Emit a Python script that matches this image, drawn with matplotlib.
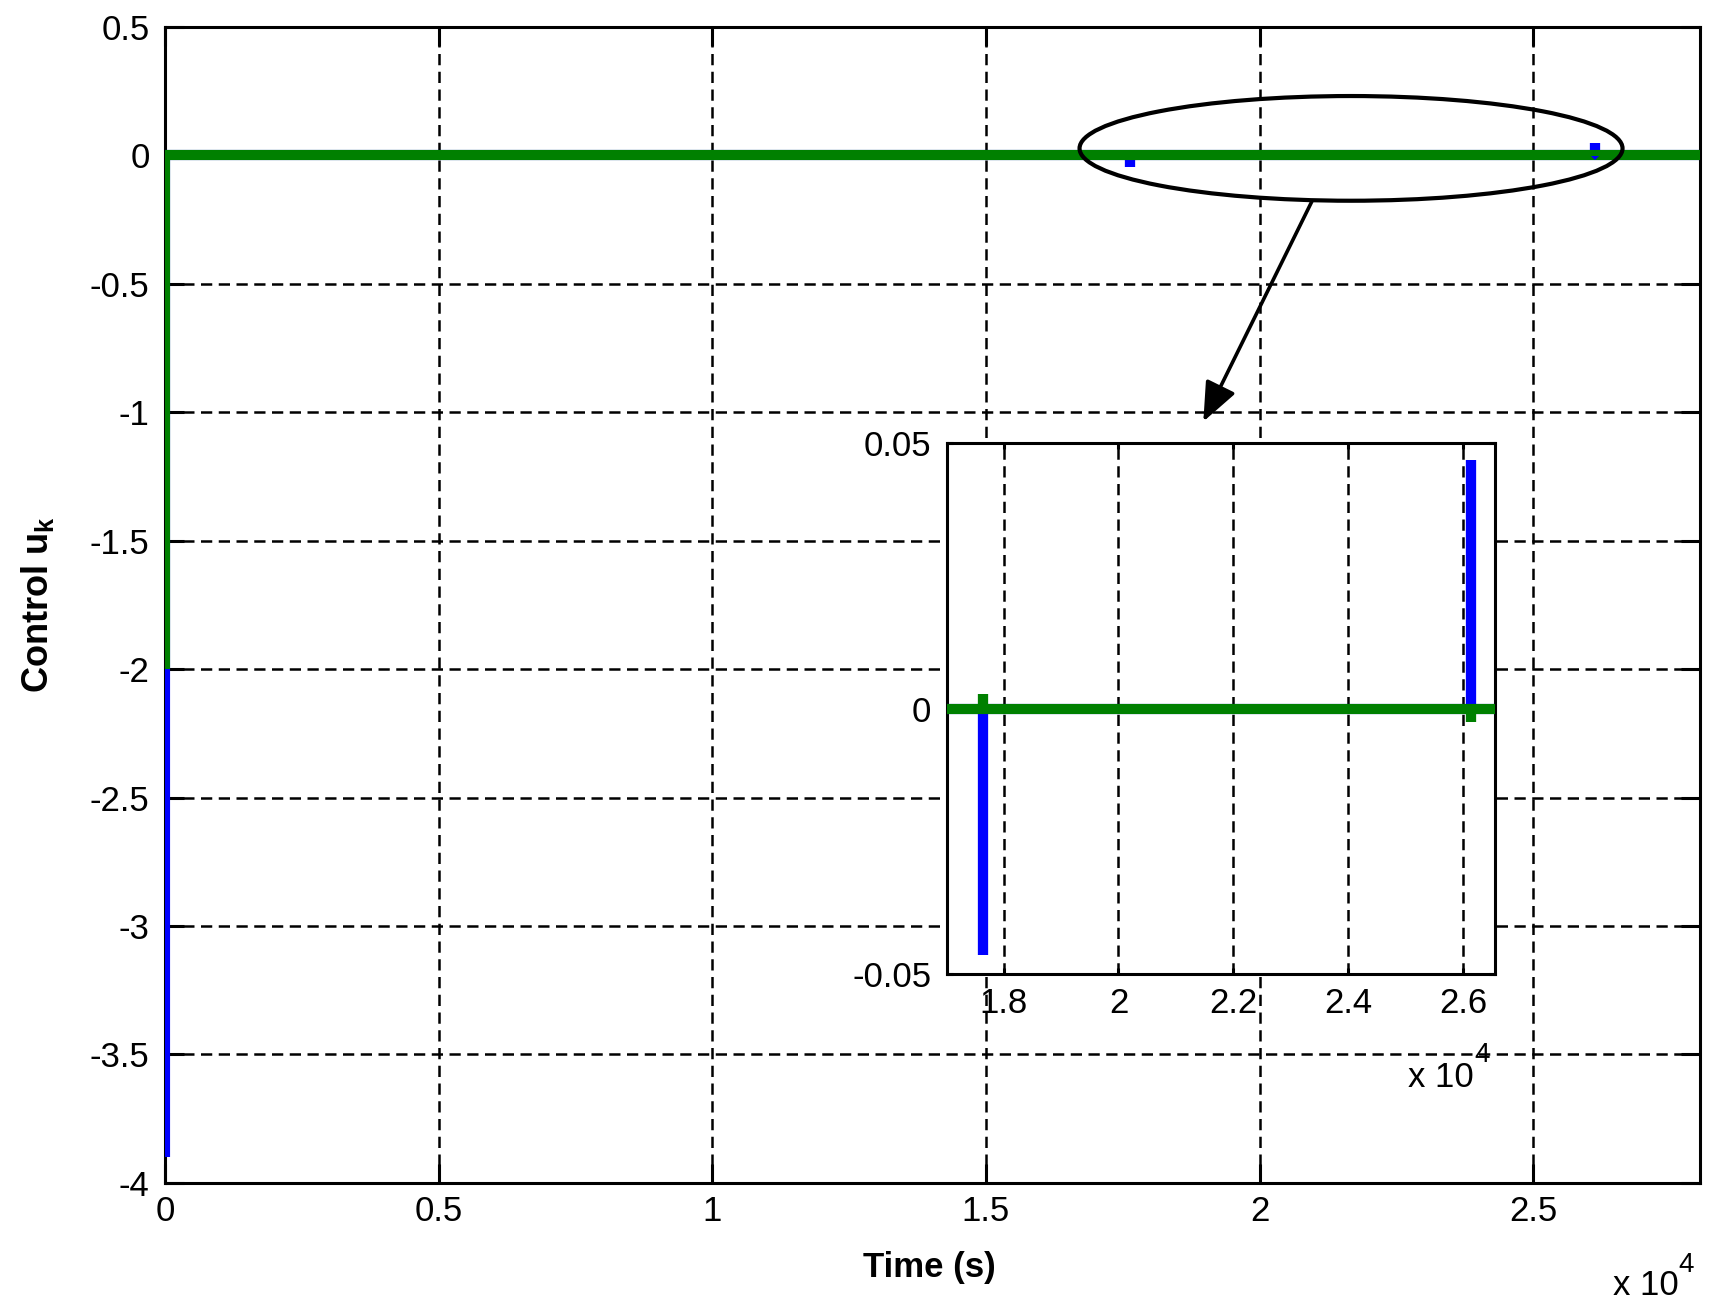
import matplotlib
matplotlib.use('Agg')
import matplotlib.pyplot as plt
from matplotlib.patches import Ellipse, FancyArrowPatch

plt.rcParams['font.family'] = ['Liberation Sans', 'DejaVu Sans']
plt.rcParams['mathtext.fontset'] = 'custom'
plt.rcParams['mathtext.rm'] = 'Liberation Sans'
plt.rcParams['mathtext.it'] = 'Liberation Sans:italic'
plt.rcParams['mathtext.bf'] = 'Liberation Sans:bold'

# control signals (time in s)
time_blue = [0, 0, 17640, 17640, 17640, 26130, 26130, 26130, 28050]
u_blue = [-3.9, 0, 0, -0.0464, 0, 0, 0.0469, 0, 0]
time_green = [0, 0, 17640, 17640, 17640, 26130, 26130, 26130, 28050]
u_green = [-2.0, 0, 0, 0.0027, 0, 0, -0.0024, 0, 0]

xticks = [0, 5000, 10000, 15000, 20000, 25000]
xtick_labels = ['0', '0.5', '1', '1.5', '2', '2.5']
yticks = [-4, -3.5, -3, -2.5, -2, -1.5, -1, -0.5, 0, 0.5]
ytick_labels = ['-4', '-3.5', '-3', '-2.5', '-2', '-1.5', '-1', '-0.5', '0', '0.5']

inset_xticks = [18000, 20000, 22000, 24000, 26000]
inset_xtick_labels = ['1.8', '2', '2.2', '2.4', '2.6']
inset_yticks = [-0.05, 0, 0.05]
inset_ytick_labels = ['-0.05', '0', '0.05']

FS = 25
LW = 7.3
grid_style = dict(color='k', linestyle=(0, (4.5, 2.6)), linewidth=1.8)


def style_axes(a, ticklen):
    for s in a.spines.values():
        s.set_linewidth(2.2)
    a.tick_params(direction='in', length=ticklen, width=2.2, labelsize=FS,
                  top=True, right=True, pad=9)
    a.tick_params(axis='y', pad=11)
    a.grid(True, **grid_style)
    a.set_axisbelow(True)


def times_ten(x_px, base_px, sup_x_px, sup_base_px):
    # MATLAB style "x 10^4" exponent label
    fig.text(x_px / 1710, (1310 - base_px) / 1310, 'x 10', fontsize=FS,
             ha='left', va='baseline')
    fig.text(sup_x_px / 1710, (1310 - sup_base_px) / 1310, '4',
             fontsize=FS * 0.8, ha='left', va='baseline')


fig = plt.figure(figsize=(17.1, 13.1), dpi=100)
ax = fig.add_axes([0.0965, 0.0970, 0.8977, 0.8824])
ax.plot(time_blue, u_blue, color='#0000ff', lw=LW, solid_capstyle='butt',
        solid_joinstyle='bevel', zorder=3)
ax.plot(time_green, u_green, color='#008000', lw=LW, solid_capstyle='butt',
        solid_joinstyle='bevel', zorder=4)
ax.set_xlim(0, 28050)
ax.set_ylim(-4, 0.5)
ax.set_xticks(xticks)
ax.set_xticklabels(xtick_labels)
ax.set_yticks(yticks)
ax.set_yticklabels(ytick_labels)
style_axes(ax, 14)

ax.add_patch(Ellipse((21672, 0.0274), 9922, 0.4076, fill=False,
                     edgecolor='k', lw=3.0, zorder=6))
ax.add_patch(FancyArrowPatch((20954, -0.180), (18973, -1.036),
                             transform=ax.transData,
                             arrowstyle='-|>,head_length=24,head_width=10',
                             mutation_scale=1, lw=2.6, color='k',
                             shrinkA=0, shrinkB=0, zorder=6))

fig.text(929 / 1710, 33 / 1310, 'Time (s)', fontsize=FS, fontweight='bold',
         ha='center', va='baseline')
fig.text(37 / 1710, 0.5382, r'Control $\mathbf{u_k}$', fontsize=FS + 1,
         fontweight='bold', rotation=90, ha='center', va='center')
times_ten(1613, 1295, 1678, 1272)

# zoomed view
axin = fig.add_axes([0.5536, 0.2563, 0.3206, 0.4053])
axin.plot(time_blue, u_blue, color='#0000ff', lw=LW, solid_capstyle='butt',
          solid_joinstyle='bevel', zorder=3)
axin.plot(time_green, u_green, color='#008000', lw=LW, solid_capstyle='butt',
          solid_joinstyle='bevel', zorder=4)
axin.set_xlim(17010, 26550)
axin.set_ylim(-0.05, 0.05)
axin.set_xticks(inset_xticks)
axin.set_xticklabels(inset_xtick_labels)
axin.set_yticks(inset_yticks)
axin.set_yticklabels(inset_ytick_labels)
style_axes(axin, 4)
times_ten(1408, 1087, 1474, 1062)

fig.savefig('out.png', dpi=100)
